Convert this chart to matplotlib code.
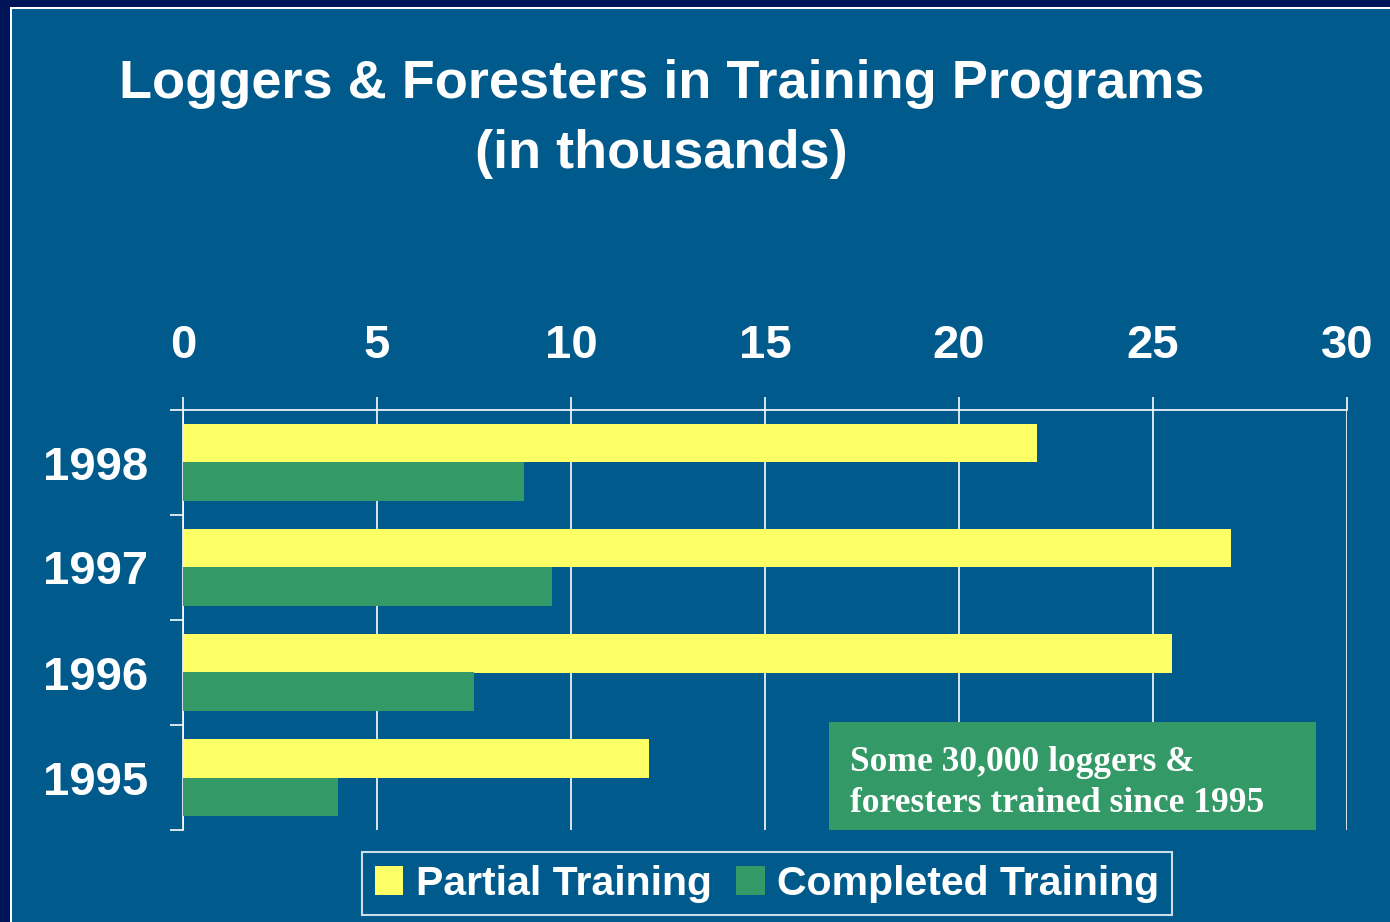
import numpy as np
import matplotlib
matplotlib.use("Agg")
import matplotlib.pyplot as plt
from matplotlib.patches import Rectangle, Patch

years = ["1995", "1996", "1997", "1998"]
partial = [12, 25.5, 27, 22]
completed = [4, 7.5, 9.5, 8.8]
x_ticks = [0, 5, 10, 15, 20, 25, 30]

bg = "#005B8C"
navy = "#001458"
yellow = "#FFFF66"
green = "#339966"

plt.rcParams["font.family"] = ["Liberation Sans", "DejaVu Sans"]
plt.rcParams["font.weight"] = "bold"

fig = plt.figure(figsize=(13.9, 9.22), dpi=100)
fig.patch.set_facecolor(bg)

# outer frame strips (top and left)
fig.patches.append(Rectangle((0, 1 - 7 / 922), 1, 7 / 922, transform=fig.transFigure,
                             facecolor=navy, edgecolor="none", zorder=0))
fig.patches.append(Rectangle((0, 0), 10 / 1390, 1, transform=fig.transFigure,
                             facecolor=navy, edgecolor="none", zorder=0))
fig.patches.append(Rectangle((10 / 1390, 1 - 9 / 922), 1, 2 / 922, transform=fig.transFigure,
                             facecolor="white", edgecolor="none", zorder=0))
fig.patches.append(Rectangle((10 / 1390, 0), 2 / 1390, 1 - 7 / 922, transform=fig.transFigure,
                             facecolor="white", edgecolor="none", zorder=0))

ax = fig.add_axes([183 / 1390, 1 - 830 / 922, (1347 - 183) / 1390, (830 - 410) / 922])
ax.set_facecolor(bg)

y = np.arange(len(years))
h = 0.37
ax.barh(y + h / 2, partial, height=h, color=yellow, zorder=3, label="Partial Training")
ax.barh(y - h / 2, completed, height=h, color=green, zorder=3, label="Completed Training")

ax.set_xlim(0, 30)
ax.set_ylim(-0.5, 3.5)
ax.set_xticks(x_ticks)
ax.set_xticklabels([str(v) for v in x_ticks])
ax.xaxis.tick_top()
ax.tick_params(axis="x", direction="out", length=9.5, width=1.2, color="white",
               labelcolor="white", labelsize=34, pad=21)
ax.xaxis.grid(True, color="white", linewidth=1.2, zorder=1)

ax.set_yticks(y)
ax.set_yticklabels(years)
ax.set_yticks(np.arange(-0.5, 4, 1), minor=True)
ax.tick_params(axis="y", which="major", length=0, labelcolor="white", labelsize=34, pad=25)
ax.tick_params(axis="y", which="minor", direction="out", length=9.5, width=1.2, color="white")
for lbl in ax.get_xticklabels() + ax.get_yticklabels():
    lbl.set_fontweight("bold")

for side in ["right", "bottom"]:
    ax.spines[side].set_visible(False)
for side in ["left", "top"]:
    ax.spines[side].set_color("white")
    ax.spines[side].set_linewidth(1.2)

fig.text(0.476, 1 - 84 / 922, "Loggers & Foresters in Training Programs", ha="center", va="center",
         color="white", fontsize=39, fontweight="bold")
fig.text(0.476, 1 - 154 / 922, "(in thousands)", ha="center", va="center",
         color="white", fontsize=39, fontweight="bold")

# note box
fig.patches.append(Rectangle((829 / 1390, 1 - 830 / 922), 487 / 1390, 108 / 922,
                             transform=fig.transFigure, facecolor=green, edgecolor="none", zorder=5))
fig.text(850 / 1390, 1 - 783 / 922, "Some 30,000 loggers &\nforesters trained since 1995",
         ha="left", va="center", color="white", fontsize=25.5, fontweight="bold",
         family=["Liberation Serif", "DejaVu Serif"], linespacing=1.3, zorder=6)

handles = [Patch(facecolor=yellow, edgecolor="none"), Patch(facecolor=green, edgecolor="none")]
leg = fig.legend(handles, ["Partial Training", "Completed Training"], ncol=2,
                 loc="center", bbox_to_anchor=(767 / 1390, 1 - 883.5 / 922),
                 frameon=True, fancybox=False, facecolor=bg, edgecolor="white",
                 fontsize=29.5, handlelength=0.7, handleheight=0.7, handletextpad=0.3,
                 columnspacing=0.6, borderpad=0.3, borderaxespad=0)
leg.get_frame().set_linewidth(1.5)
for t in leg.get_texts():
    t.set_color("white")
    t.set_fontweight("bold")

fig.savefig("out.png", dpi=100, facecolor=fig.get_facecolor())
